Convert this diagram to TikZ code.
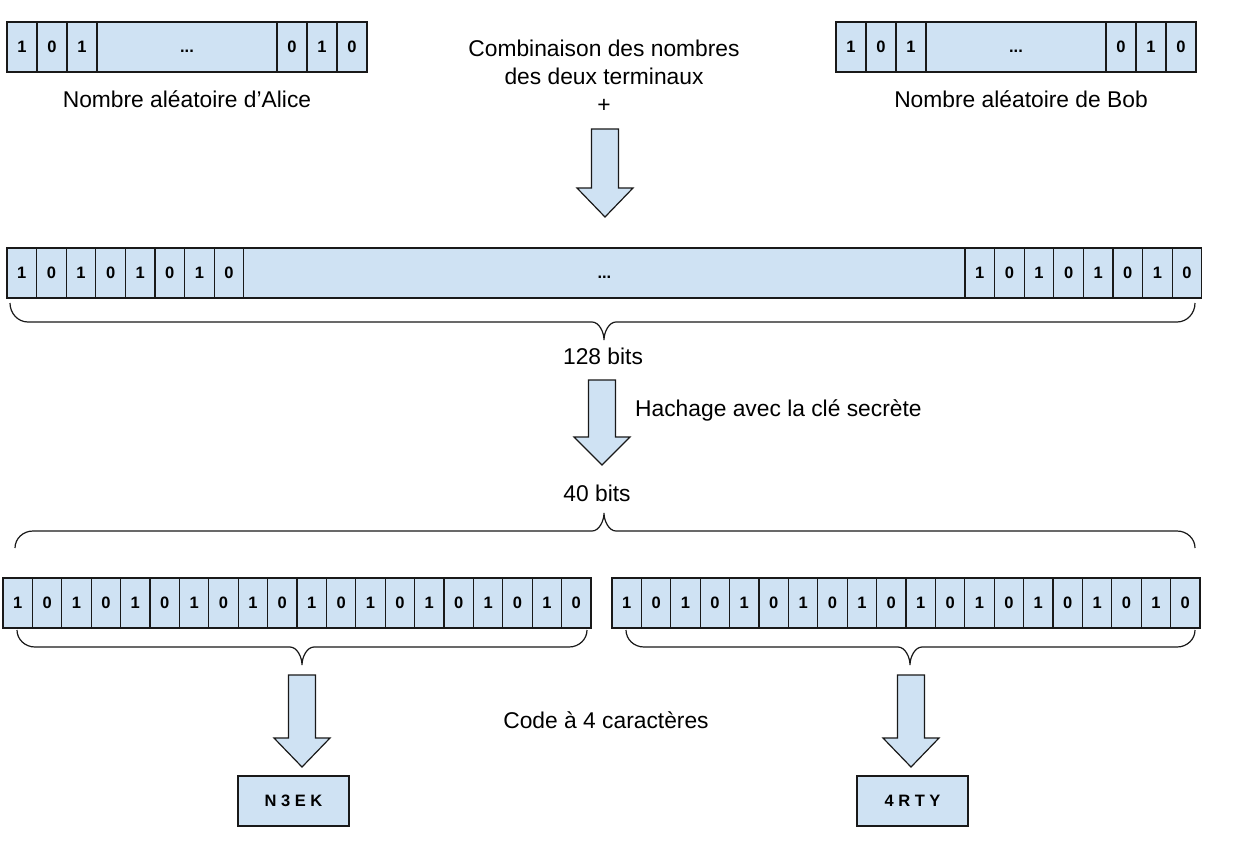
\documentclass[tikz,border=0pt]{standalone}
\usepackage{fontspec}
\setmainfont{Liberation Sans}
\usetikzlibrary{positioning}
\definecolor{cellBlue}{RGB}{207,226,243}
\definecolor{lineInk}{RGB}{25,25,25}
\tikzset{
  bit cell/.style={draw=lineInk,fill=cellBlue,line width=1.2pt,minimum height=50pt,inner sep=0pt,text height=11.5pt,text depth=0pt,text=black,font=\fontsize{16.5}{19}\selectfont\bfseries},
  code box/.style={bit cell,minimum width=111pt},
  caption/.style={inner sep=0pt,align=center,text=black,font=\fontsize{22.8}{28}\selectfont},
  block arrow/.style={draw=lineInk,fill=cellBlue,line width=1.2pt,line join=miter},
  bit brace/.style={draw=lineInk,line width=1.2pt}
}
\begin{document}
\begin{tikzpicture}[x=1pt,y=-1pt]
  \useasboundingbox (0,0) rectangle (1250,855);
  % random numbers of both terminals
  \foreach \k in {0,1,2} {
    \pgfmathtruncatemacro\bit{1-mod(\k,2)}
    \pgfmathtruncatemacro\tail{mod(\k,2)}
    \node[bit cell,minimum width=30pt] (aliceHead\k) at (22+30*\k,47) {\bit};
    \node[bit cell,minimum width=30pt] (aliceTail\k) at (292+30*\k,47) {\tail};
    \node[bit cell,minimum width=30pt] (bobHead\k) at (851+30*\k,47) {\bit};
    \node[bit cell,minimum width=30pt] (bobTail\k) at (1121+30*\k,47) {\tail};
  }
  \node[bit cell,minimum width=180pt] (aliceDots) at (187,47) {...};
  \node[bit cell,minimum width=180pt] (bobDots) at (1016,47) {...};
  \node[caption] (aliceLabel) at (187,99) {Nombre aléatoire d’Alice};
  \node[caption] (bobLabel) at (1021,99) {Nombre aléatoire de Bob};
  \node[caption] (comboText) at (604,76) {Combinaison des nombres\\des deux terminaux\\+};
  % 128 bits
  \foreach \k in {0,...,7} {
    \pgfmathtruncatemacro\bit{1-mod(\k,2)}
    \node[bit cell,minimum width=29.6pt] (fullHead\k) at (21.8+29.6*\k,273) {\bit};
    \node[bit cell,minimum width=29.6pt] (fullTail\k) at (979.8+29.6*\k,273) {\bit};
  }
  \node[bit cell,minimum width=721.2pt] (fullDots) at (604.4,273) {...};
  \node[caption] (fullBits) at (603,356) {128 bits};
  \node[caption,anchor=west] (hashLabel) at (635,410) {Hachage avec la clé secrète};
  \node[caption] (hashBits) at (597,493) {40 bits};
  % two halves of 20 bits
  \foreach \k in {0,...,19} {
    \pgfmathtruncatemacro\bit{1-mod(\k,2)}
    \node[bit cell,minimum width=29.4pt] (leftBit\k) at (17.7+29.4*\k,603) {\bit};
    \node[bit cell,minimum width=29.4pt] (rightBit\k) at (626.7+29.4*\k,603) {\bit};
  }
  \node[caption] (codeLabel) at (606,720) {Code à 4 caractères};
  \node[code box] (codeLeft) at (293.5,801) {N 3 E K};
  \node[code box] (codeRight) at (912.5,801) {4 R T Y};
  % braces
  \foreach \xl/\xr/\xc/\yend/\ymid/\ytip in {10/1195/604/303/322/340,15/1195/604/548/531/513,17/587/302/630/647/665,626/1195/910/630/647/665}
    \draw[bit brace] (\xl,\yend) .. controls (\xl,0.45*\yend+0.55*\ymid) and (\xl+8,\ymid) .. (\xl+18,\ymid)
      -- (\xc-12,\ymid) .. controls (\xc-5,\ymid) and (\xc,0.45*\ymid+0.55*\ytip) .. (\xc,\ytip)
      .. controls (\xc,0.45*\ymid+0.55*\ytip) and (\xc+5,\ymid) .. (\xc+12,\ymid)
      -- (\xr-18,\ymid) .. controls (\xr-8,\ymid) and (\xr,0.45*\yend+0.55*\ymid) .. (\xr,\yend);
  % block arrows
  \foreach \cx/\ytop/\yhead/\ytip in {605/129/188/217,602/380/437/465,302/675/738/767,911/675/738/767}
    \draw[block arrow] (\cx-13.5,\ytop) -- (\cx+13.5,\ytop) -- (\cx+13.5,\yhead) -- (\cx+28,\yhead)
      -- (\cx,\ytip) -- (\cx-28,\yhead) -- (\cx-13.5,\yhead) -- cycle;
\end{tikzpicture}
\end{document}
